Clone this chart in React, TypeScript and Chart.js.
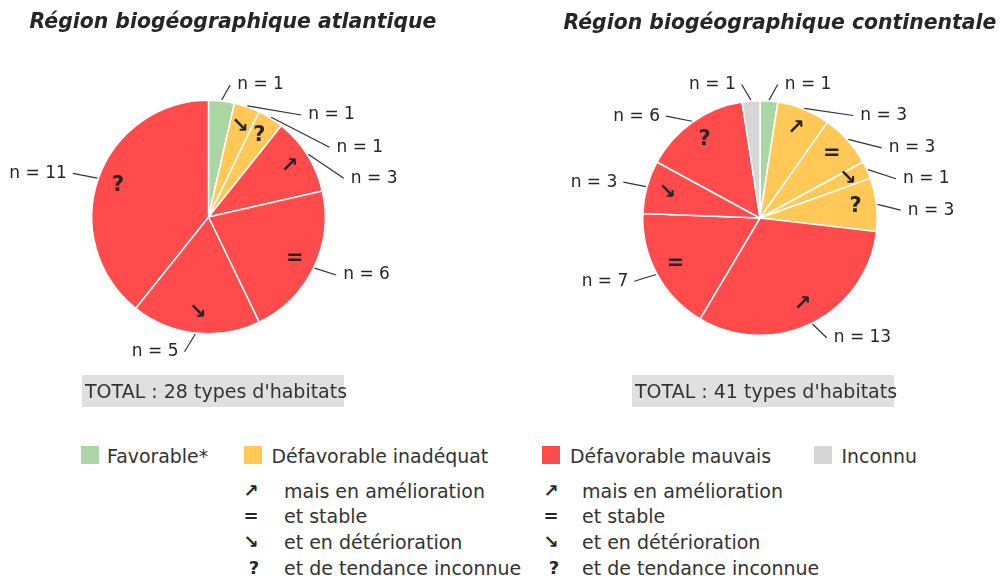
import React, { useEffect, useRef } from 'react';
import { Chart, ArcElement, PieController } from 'chart.js';

Chart.register(ArcElement, PieController);

// ---------- data ----------
const ATL_STATUS = ['fav', 'inad', 'inad', 'mauv', 'mauv', 'mauv', 'mauv'];
const ATL_TRENDS = ['', '↘', '?', '↗', '=', '↘', '?'];
const ATL_COUNTS = [1, 1, 1, 3, 6, 5, 11];

const CONT_STATUS = ['fav', 'inad', 'inad', 'inad', 'inad', 'mauv', 'mauv', 'mauv', 'mauv', 'inconnu'];
const CONT_TRENDS = ['', '↗', '=', '↘', '?', '↗', '=', '↘', '?', ''];
const CONT_COUNTS = [1, 3, 3, 1, 3, 13, 7, 3, 6, 1];

const TITLES = ['Région biogéographique atlantique', 'Région biogéographique continentale'];
const TOTAL_LABELS = ["TOTAL : 28 types d'habitats", "TOTAL : 41 types d'habitats"];

const STATUS_KEYS = ['fav', 'inad', 'mauv', 'inconnu'];
const STATUS_LABELS = ['Favorable*', 'Défavorable inadéquat', 'Défavorable mauvais', 'Inconnu'];
const TREND_SYMBOLS = ['↗', '=', '↘', '?'];
const TREND_LABELS = ['mais en amélioration', 'et stable', 'et en détérioration', 'et de tendance inconnue'];

// ---------- styles / layout ----------
const COLORS: Record<string, string> = {
  fav: '#aad6a4',
  inad: '#ffc857',
  mauv: '#ff4b4b',
  inconnu: '#d6d6d6',
};
const FONT = "'DejaVu Sans', 'Liberation Sans', sans-serif";
const TEXT = '#262626';

// label line end points, relative to pie centre (px)
const ATL_LABEL_ENDS: [number, number][] = [
  [21.7, -132], [92.7, -102], [121, -69.7], [135.3, -38.7], [127.7, 58], [-24, 134.7], [-135.7, -43.7],
];
const CONT_LABEL_ENDS: [number, number][] = [
  [17.7, -133.5], [93.3, -102.5], [121.7, -70.2], [136, -39.2], [140.7, -7.8],
  [66.7, 119.8], [-125.7, 63.2], [-136.7, -35.8], [-94, -101.8], [-18.3, -133.5],
];

type PieProps = {
  status: string[];
  trends: string[];
  counts: number[];
  labelEnds: [number, number][];
  left: number;
  width: number;
  height: number;
  padding: { left: number; right: number; top: number; bottom: number };
};

function PieChart(props: PieProps) {
  const ref = useRef<HTMLCanvasElement | null>(null);
  useEffect(() => {
    if (!ref.current) return;
    const { status, trends, counts, labelEnds } = props;
    const labelPlugin = {
      id: 'nlabels',
      afterDatasetsDraw(chart: any) {
        const ctx = chart.ctx as CanvasRenderingContext2D;
        const meta = chart.getDatasetMeta(0);
        meta.data.forEach((arc: any, i: number) => {
          const p = arc.getProps(['x', 'y', 'startAngle', 'endAngle', 'outerRadius'], true);
          const mid = (p.startAngle + p.endAngle) / 2;
          const r = p.outerRadius;
          // trend symbol inside slice
          if (trends[i]) {
            ctx.save();
            ctx.fillStyle = TEXT;
            ctx.font = `bold 21px ${FONT}`;
            ctx.textAlign = 'center';
            ctx.textBaseline = 'middle';
            ctx.fillText(trends[i], p.x + Math.cos(mid) * r * 0.82, p.y + Math.sin(mid) * r * 0.82);
            ctx.restore();
          }
          // leader line + label
          const sx = p.x + Math.cos(mid) * (r + 1);
          const sy = p.y + Math.sin(mid) * (r + 1);
          const ex = p.x + labelEnds[i][0];
          const ey = p.y + labelEnds[i][1];
          ctx.save();
          ctx.strokeStyle = '#333333';
          ctx.lineWidth = 1.2;
          ctx.beginPath();
          ctx.moveTo(sx, sy);
          ctx.lineTo(ex, ey);
          ctx.stroke();
          ctx.fillStyle = TEXT;
          ctx.font = `17px ${FONT}`;
          ctx.textBaseline = 'middle';
          const rightSide = labelEnds[i][0] >= 0;
          ctx.textAlign = rightSide ? 'left' : 'right';
          ctx.fillText(`n = ${counts[i]}`, ex + (rightSide ? 7 : -6), ey);
          ctx.restore();
        });
      },
    };
    const chart = new Chart(ref.current, {
      type: 'pie',
      data: {
        labels: status.map((s, i) => `${s} ${trends[i]}`),
        datasets: [
          {
            data: counts,
            backgroundColor: status.map((s) => COLORS[s]),
            borderColor: '#ffffff',
            borderWidth: 1.5,
          },
        ],
      },
      options: {
        responsive: false,
        maintainAspectRatio: false,
        animation: false,
        layout: { padding: props.padding },
        plugins: {
          legend: { display: false },
          tooltip: { enabled: false },
          title: { display: false },
        } as any,
      },
      plugins: [labelPlugin],
    });
    return () => chart.destroy();
  }, []);
  return (
    <canvas
      ref={ref}
      width={props.width}
      height={props.height}
      style={{ position: 'absolute', left: props.left, top: 0, width: props.width, height: props.height }}
    />
  );
}

const abs = (extra: React.CSSProperties): React.CSSProperties => ({
  position: 'absolute',
  whiteSpace: 'nowrap',
  lineHeight: 1,
  fontFamily: FONT,
  color: TEXT,
  ...extra,
});

export default function App() {
  const legendPatchX = [81, 244, 542, 814];
  const legendTextX = [107, 271.5, 570, 841.5];
  const trendRowY = [490.5, 516, 541.5, 568];
  const trendSymX = [251, 551];
  const trendTextX = [284, 582];
  return (
    <div style={{ position: 'absolute', left: 0, top: 0, width: 1001, height: 581, background: '#ffffff', overflow: 'hidden' }}>
      <PieChart
        status={ATL_STATUS}
        trends={ATL_TRENDS}
        counts={ATL_COUNTS}
        labelEnds={ATL_LABEL_ENDS}
        left={0}
        width={500}
        height={420}
        padding={{ left: 91, right: 174, top: 99, bottom: 85 }}
      />
      <PieChart
        status={CONT_STATUS}
        trends={CONT_TRENDS}
        counts={CONT_COUNTS}
        labelEnds={CONT_LABEL_ENDS}
        left={500}
        width={501}
        height={420}
        padding={{ left: 142, right: 123, top: 100, bottom: 84 }}
      />
      {/* titles */}
      <div style={abs({ left: 233, top: 21, transform: 'translate(-50%, -50%)', fontSize: 20.4, fontWeight: 'bold', fontStyle: 'italic' })}>
        {TITLES[0]}
      </div>
      <div style={abs({ left: 780, top: 22, transform: 'translate(-50%, -50%)', fontSize: 20.4, fontWeight: 'bold', fontStyle: 'italic' })}>
        {TITLES[1]}
      </div>
      {/* totals */}
      {[82, 632].map((x, i) => (
        <div key={i} style={{ position: 'absolute', left: x, top: 375, width: 262, height: 32, background: '#e0e0e0' }}>
          <div style={abs({ left: 3, top: 16, transform: 'translateY(-50%)', fontSize: 19, color: '#333333' })}>
            {TOTAL_LABELS[i]}
          </div>
        </div>
      ))}
      {/* status legend */}
      {STATUS_KEYS.map((k, i) => (
        <React.Fragment key={k}>
          <div style={{ position: 'absolute', left: legendPatchX[i], top: 446, width: 18, height: 18, background: COLORS[k] }} />
          <div style={abs({ left: legendTextX[i], top: 455.5, transform: 'translateY(-50%)', fontSize: 18.9, color: '#333333' })}>
            {STATUS_LABELS[i]}
          </div>
        </React.Fragment>
      ))}
      {/* trend legend */}
      {[0, 1].map((c) =>
        TREND_SYMBOLS.map((s, r) => (
          <React.Fragment key={`${c}-${r}`}>
            <div
              style={abs({
                left: trendSymX[c] + (s === '?' ? 3 : 0),
                top: trendRowY[r],
                transform: 'translate(-50%, -50%)',
                fontSize: 18,
                fontWeight: 'bold',
              })}
            >
              {s}
            </div>
            <div style={abs({ left: trendTextX[c], top: trendRowY[r], transform: 'translateY(-50%)', fontSize: 19, color: '#333333' })}>
              {TREND_LABELS[r]}
            </div>
          </React.Fragment>
        ))
      )}
    </div>
  );
}
